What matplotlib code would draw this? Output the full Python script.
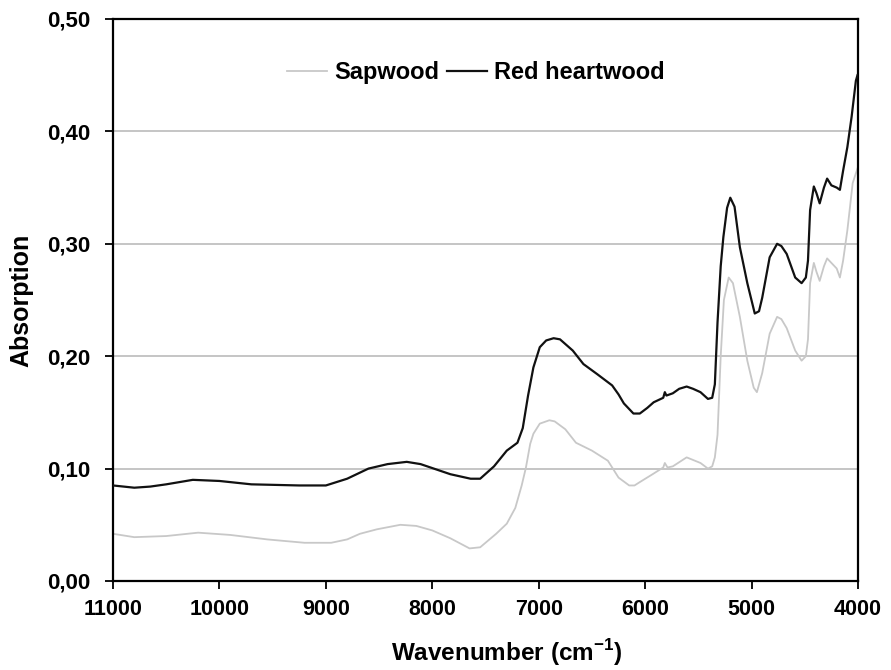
import matplotlib
matplotlib.use("Agg")
import matplotlib.pyplot as plt
import numpy as np

# Red heartwood (black line)
wn_heart = [11000, 10800, 10650, 10500, 10250, 10000, 9700, 9250, 9000, 8800, 8600, 8420,
            8240, 8110, 7830, 7640, 7550, 7420, 7300, 7200, 7150, 7100, 7050, 6990, 6930,
            6860, 6800, 6740, 6680, 6580, 6450, 6310, 6250, 6200, 6110, 6050, 5980, 5920,
            5830, 5815, 5800, 5740, 5680, 5610, 5550, 5480, 5410, 5370, 5345, 5320, 5290,
            5265, 5230, 5200, 5160, 5110, 5040, 4970, 4930, 4900, 4830, 4760, 4720, 4670,
            4590, 4530, 4490, 4470, 4450, 4415, 4390, 4360, 4320, 4290, 4250, 4200, 4170,
            4140, 4100, 4060, 4020, 4005]
heart = [0.085, 0.083, 0.084, 0.086, 0.090, 0.089, 0.086, 0.085, 0.085, 0.091, 0.100, 0.104,
         0.106, 0.104, 0.095, 0.091, 0.091, 0.102, 0.116, 0.123, 0.136, 0.165, 0.190, 0.208, 0.214,
         0.216, 0.215, 0.210, 0.205, 0.193, 0.184, 0.174, 0.166, 0.158, 0.149, 0.149, 0.154, 0.159,
         0.163, 0.168, 0.165, 0.167, 0.171, 0.173, 0.171, 0.168, 0.162, 0.163, 0.175, 0.230, 0.280,
         0.306, 0.332, 0.341, 0.333, 0.297, 0.265, 0.238, 0.240, 0.252, 0.288, 0.300, 0.298, 0.291,
         0.270, 0.265, 0.270, 0.285, 0.330, 0.351, 0.345, 0.336, 0.350, 0.358, 0.352, 0.350, 0.348,
         0.365, 0.386, 0.413, 0.445, 0.450]

# Sapwood (grey line)
wn_sap = [11000, 10800, 10500, 10200, 9900, 9550, 9200, 8950, 8800, 8680, 8520, 8300, 8150,
          8000, 7830, 7650, 7550, 7450, 7400, 7300, 7220, 7160, 7120, 7080, 7050, 6990, 6900,
          6850, 6750, 6650, 6500, 6350, 6250, 6150, 6100, 6050, 5930, 5830, 5815, 5790, 5740,
          5610, 5480, 5410, 5370, 5345, 5320, 5290, 5260, 5215, 5175, 5110, 5040, 4980, 4950,
          4900, 4830, 4760, 4720, 4670, 4590, 4530, 4490, 4470, 4450, 4415, 4390, 4360, 4320,
          4290, 4250, 4200, 4170, 4140, 4100, 4050, 4005]
sap = [0.042, 0.039, 0.040, 0.043, 0.041, 0.037, 0.034, 0.034, 0.037, 0.042, 0.046, 0.050, 0.049,
       0.045, 0.038, 0.029, 0.030, 0.038, 0.042, 0.051, 0.065, 0.085, 0.101, 0.122, 0.131, 0.140, 0.143,
       0.142, 0.135, 0.123, 0.116, 0.107, 0.092, 0.085, 0.085, 0.088, 0.095, 0.101, 0.105, 0.101, 0.102,
       0.110, 0.105, 0.100, 0.102, 0.110, 0.130, 0.200, 0.250, 0.270, 0.265, 0.235, 0.196, 0.172, 0.168,
       0.185, 0.220, 0.235, 0.233, 0.225, 0.205, 0.196, 0.200, 0.215, 0.265, 0.283, 0.275, 0.267, 0.280,
       0.287, 0.283, 0.278, 0.270, 0.285, 0.312, 0.354, 0.367]

x_ticks = [11000, 10000, 9000, 8000, 7000, 6000, 5000, 4000]
y_ticks = [0.0, 0.1, 0.2, 0.3, 0.4, 0.5]
y_labels = ["0,00", "0,10", "0,20", "0,30", "0,40", "0,50"]

plt.rcParams['font.family'] = ['Liberation Sans', 'DejaVu Sans']
plt.rcParams['font.weight'] = 'bold'
plt.rcParams['mathtext.fontset'] = 'custom'
plt.rcParams['mathtext.rm'] = 'Liberation Sans:bold'
plt.rcParams['mathtext.bf'] = 'Liberation Sans:bold'

fig = plt.figure(figsize=(8.91, 6.70), dpi=100)
ax = fig.add_axes([113/891, 1-581/670, (858-113)/891, (581-19)/670])

for yv in y_ticks[1:-1]:
    ax.axhline(yv, color='#c0c0c0', lw=1.3, zorder=1)

ax.plot(wn_sap, sap, color='#c8c8c8', lw=1.3, label='Sapwood', zorder=2)
ax.plot(wn_heart, heart, color='#111111', lw=1.6, label='Red heartwood', zorder=3)

ax.set_xlim(11000, 4000)
ax.set_ylim(0, 0.5)
ax.set_xticks(x_ticks)
ax.set_xticklabels([str(t) for t in x_ticks], fontsize=15.5, fontweight='bold')
ax.set_yticks(y_ticks)
ax.set_yticklabels(y_labels, fontsize=16, fontweight='bold')
ax.tick_params(axis='both', direction='out', length=6, width=1.3)
ax.tick_params(axis='x', pad=7)
ax.tick_params(axis='y', pad=10)
for s in ax.spines.values():
    s.set_linewidth(1.6)
    s.set_color('black')

ax.set_xlabel('Wavenumber (cm$^{-1}$)', fontsize=17.5, fontweight='bold', labelpad=10)
ax.xaxis.set_label_coords((507 - 113) / 745, -0.1)
ax.set_ylabel('Absorption', fontsize=18, fontweight='bold', labelpad=10)

leg = ax.legend(loc='upper center', bbox_to_anchor=(0.487, 0.963), ncol=2, frameon=False,
                prop={'size': 17, 'weight': 'bold'}, handlelength=1.7, handletextpad=0.3,
                columnspacing=0.3)

fig.savefig('out.png', dpi=100)
